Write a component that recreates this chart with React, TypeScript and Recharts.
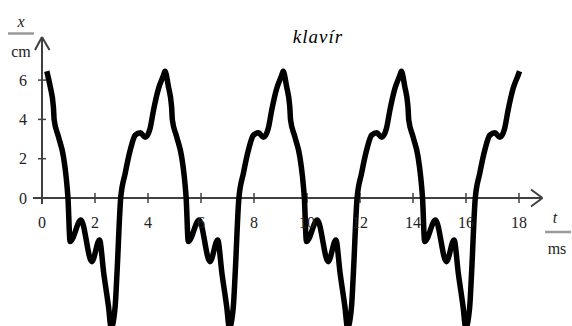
import { LineChart, Line, XAxis, YAxis, ReferenceLine, ReferenceDot } from 'recharts'

// čas (ms) a výchylka (cm)
const casy = [
  0.18, 0.31, 0.43, 0.46, 0.62, 0.81, 0.91, 0.98, 1.06, 1.47, 1.88, 2.17, 2.33, 2.51, 2.61, 2.76, 2.83, 2.97, 3.14, 3.33, 3.52, 3.71, 3.9, 4.08, 4.21, 4.4, 4.59,
  4.64, 4.77, 4.89, 4.92, 5.08, 5.27, 5.37, 5.44, 5.52, 5.93, 6.34, 6.63, 6.79, 6.97, 7.07, 7.22, 7.29, 7.43, 7.6, 7.79, 7.98, 8.17, 8.36, 8.54, 8.67, 8.86, 9.05,
  9.1, 9.23, 9.35, 9.38, 9.54, 9.73, 9.83, 9.9, 9.98, 10.39, 10.8, 11.09, 11.25, 11.43, 11.53, 11.68, 11.75, 11.89, 12.06, 12.25, 12.44, 12.63, 12.82, 13.0, 13.13, 13.32, 13.51,
  13.56, 13.69, 13.81, 13.84, 14.0, 14.19, 14.29, 14.36, 14.44, 14.85, 15.26, 15.55, 15.71, 15.89, 15.99, 16.14, 16.21, 16.35, 16.52, 16.71, 16.9, 17.09, 17.28, 17.46, 17.59, 17.78, 17.97,
  18.02,
]

const vychylky = [
  6.45, 5.67, 4.65, 3.97, 3.12, 2.1, 1.08, 0, -2.22, -1.12, -3.24, -2.14, -3.83, -5.53, -6.6, -5.53, -3.83, 0, 1.26, 2.44, 3.2, 3.32, 3.09, 3.55, 4.48, 5.58, 6.26,
  6.45, 5.67, 4.65, 3.97, 3.12, 2.1, 1.08, 0, -2.22, -1.12, -3.24, -2.14, -3.83, -5.53, -6.6, -5.53, -3.83, 0, 1.26, 2.44, 3.2, 3.32, 3.09, 3.55, 4.48, 5.58, 6.26,
  6.45, 5.67, 4.65, 3.97, 3.12, 2.1, 1.08, 0, -2.22, -1.12, -3.24, -2.14, -3.83, -5.53, -6.6, -5.53, -3.83, 0, 1.26, 2.44, 3.2, 3.32, 3.09, 3.55, 4.48, 5.58, 6.26,
  6.45, 5.67, 4.65, 3.97, 3.12, 2.1, 1.08, 0, -2.22, -1.12, -3.24, -2.14, -3.83, -5.53, -6.6, -5.53, -3.83, 0, 1.26, 2.44, 3.2, 3.32, 3.09, 3.55, 4.48, 5.58, 6.26,
  6.45,
]

const xTicks = [0, 2, 4, 6, 8, 10, 12, 14, 16, 18]
const yTicks = [0, 2, 4, 6]

const data = casy.map((t, i) => ({ t, x: vychylky[i] }))

// rozměry a měřítko (px)
const W = 572
const H = 326
const X0 = 42
const XS = 26.5
const Y0 = 198
const YS = 19.65
const tx = (px: number) => (px - X0) / XS
const vy = (py: number) => (Y0 - py) / YS

const serif = "'Liberation Serif', 'DejaVu Serif', serif"
const axisColor = '#404040'

// text vykreslený přes shape u ReferenceDot
function txt(value: string, opts: { anchor?: 'start' | 'middle' | 'end'; italic?: boolean; size?: number; spacing?: number; fill?: string } = {}) {
  return (p: any) => (
    <text
      x={p.cx}
      y={p.cy}
      textAnchor={opts.anchor ?? 'middle'}
      dominantBaseline="central"
      style={{
        fontFamily: serif,
        fontSize: opts.size ?? 16,
        fontStyle: opts.italic ? 'italic' : 'normal',
        letterSpacing: opts.spacing ?? 0,
        fill: opts.fill ?? '#222',
      }}
    >
      {value}
    </text>
  )
}

export default function App() {
  return (
    <div style={{ position: 'absolute', left: 0, top: 0, background: '#fff', fontFamily: serif }}>
      <LineChart width={W} height={H} data={data} margin={{ top: 0, right: 0, bottom: 0, left: 0 }}>
        <XAxis dataKey="t" type="number" domain={[tx(0), tx(W)]} allowDataOverflow hide />
        <YAxis type="number" domain={[vy(H), vy(0)]} allowDataOverflow hide />

        {/* osy */}
        <ReferenceLine segment={[{ x: tx(33), y: 0 }, { x: tx(542), y: 0 }]} stroke={axisColor} strokeWidth={2} />
        <ReferenceLine segment={[{ x: tx(531), y: vy(189.5) }, { x: tx(542.5), y: 0 }]} stroke={axisColor} strokeWidth={2} />
        <ReferenceLine segment={[{ x: tx(531), y: vy(206.5) }, { x: tx(542.5), y: 0 }]} stroke={axisColor} strokeWidth={2} />
        <ReferenceLine segment={[{ x: 0, y: vy(204) }, { x: 0, y: vy(37) }]} stroke={axisColor} strokeWidth={2} />
        <ReferenceLine segment={[{ x: tx(35), y: vy(50) }, { x: 0, y: vy(37) }]} stroke={axisColor} strokeWidth={2} />
        <ReferenceLine segment={[{ x: tx(49.5), y: vy(50) }, { x: 0, y: vy(37) }]} stroke={axisColor} strokeWidth={2} />

        {xTicks.map(t => (
          <ReferenceLine key={'xt' + t} segment={[{ x: t, y: vy(193) }, { x: t, y: vy(203) }]} stroke={axisColor} strokeWidth={1.5} />
        ))}
        {xTicks.map(t => (
          <ReferenceDot key={'xl' + t} x={t} y={vy(222)} r={0} shape={txt(String(t))} />
        ))}
        {yTicks.map(v => (
          <ReferenceLine key={'yt' + v} segment={[{ x: tx(38), y: v }, { x: tx(46), y: v }]} stroke={axisColor} strokeWidth={1.5} />
        ))}
        {yTicks.map(v => (
          <ReferenceDot key={'yl' + v} x={tx(27)} y={v} r={0} shape={txt(String(v), { anchor: 'end' })} />
        ))}

        {/* popisky os */}
        <ReferenceLine segment={[{ x: tx(8), y: vy(33.5) }, { x: tx(34), y: vy(33.5) }]} stroke="#999" strokeWidth={2.5} />
        <ReferenceLine segment={[{ x: tx(545), y: vy(232) }, { x: tx(571), y: vy(232) }]} stroke="#999" strokeWidth={2.5} />
        <ReferenceDot x={tx(21)} y={vy(21)} r={0} shape={txt('x', { italic: true })} />
        <ReferenceDot x={tx(21)} y={vy(51)} r={0} shape={txt('cm')} />
        <ReferenceDot x={tx(555)} y={vy(217)} r={0} shape={txt('t', { italic: true })} />
        <ReferenceDot x={tx(557)} y={vy(248)} r={0} shape={txt('ms')} />
        <ReferenceDot x={tx(318)} y={vy(36.5)} r={0} shape={txt('klavír', { italic: true, size: 19, spacing: 1, fill: '#000' })} />

        <Line
          type="monotone"
          dataKey="x"
          stroke="#000"
          strokeWidth={5.5}
          dot={false}
          activeDot={false}
          isAnimationActive={false}
        />
      </LineChart>
    </div>
  )
}
